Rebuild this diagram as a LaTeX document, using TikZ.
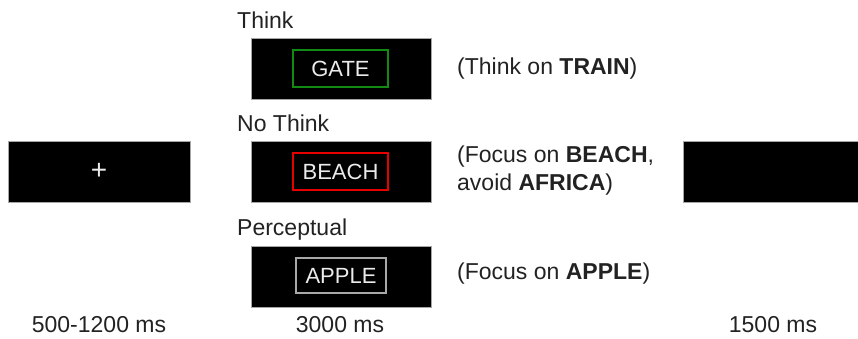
\documentclass[tikz,border=0pt]{standalone}
\usepackage{fontspec}
\setmainfont{Liberation Sans}
\definecolor{txt}{HTML}{222222}
\definecolor{gframe}{HTML}{138A13}
\definecolor{rframe}{HTML}{E80000}
\definecolor{pframe}{HTML}{A8A8A8}
\begin{document}
\begin{tikzpicture}[x=1pt,y=-1pt,
  screen/.style={fill=black,draw=gray!70,line width=0.8pt},
  word/.style={text=white!92!black,font=\fontsize{22}{26}\selectfont},
  lab/.style={text=txt,font=\fontsize{23}{27}\selectfont,inner sep=0pt},
  frm/.style={line width=2.5pt}]
\useasboundingbox (0,0) rectangle (858,338);
% screens
\path[screen] (8,141) rectangle (190,202);
\node[word,font=\fontsize{28}{30}\selectfont] (fix) at (99,171.5) {+};
\path[screen] (251,38) rectangle (431,99);
\path[screen] (251,141) rectangle (431,202);
\path[screen] (251,246) rectangle (431,307);
\path[screen] (683,141) rectangle (862,202);
% framed words
\draw[frm,draw=gframe] (293,50) rectangle (388,87);
\node[word] (gate) at (340.5,68.5) {GATE};
\draw[frm,draw=rframe] (293,153) rectangle (388,190);
\node[word] (beach) at (340.5,171.5) {BEACH};
\draw[frm,draw=pframe] (296,258) rectangle (386,293);
\node[word] (apple) at (341,275.5) {APPLE};
% condition labels
\node[lab,anchor=west] (lthink) at (237,20) {Think};
\node[lab,anchor=west] (lno) at (237,123) {No Think};
\node[lab,anchor=west] (lperc) at (237,230) {Perceptual};
% instructions
\node[lab,anchor=west] (ithink) at (457,69) {(Think on \textbf{TRAIN})};
\node[lab,anchor=west] (ino1) at (457,157) {(Focus on \textbf{BEACH},};
\node[lab,anchor=west] (ino2) at (457,185) {avoid \textbf{AFRICA})};
\node[lab,anchor=west] (iperc) at (457,274) {(Focus on \textbf{APPLE})};
% durations
\node[lab] (d1) at (99,325) {500-1200 ms};
\node[lab] (d2) at (340,325) {3000 ms};
\node[lab] (d3) at (773,325) {1500 ms};
\end{tikzpicture}
\end{document}
